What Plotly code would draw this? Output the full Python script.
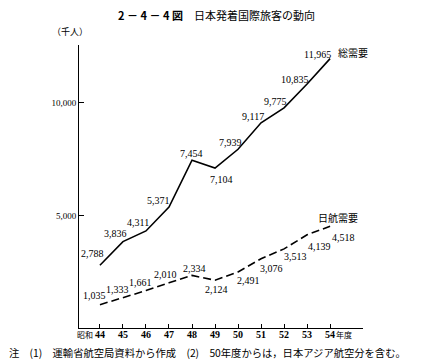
import plotly.graph_objects as go

years = [44, 45, 46, 47, 48, 49, 50, 51, 52, 53, 54]
year_labels = ["44", "45", "46", "47", "48", "49", "50", "51", "52", "53", "54"]
total_demand = [2788, 3836, 4311, 5371, 7454, 7104, 7939, 9117, 9775, 10835, 11965]
jal_demand = [1035, 1333, 1661, 2010, 2334, 2124, 2491, 3076, 3513, 4139, 4518]
y_ticks = [5000, 10000]

# label offsets (pixels) relative to each point: style only
total_dx = [-7, -7, -8, -10, -1, 6, -8, -8, -9, -12, -13]
total_dy = [12, 8, 8, 7, 7, -11, 7, 6, 6, 5, 4]
jal_dx = [-5, -5, -5, -3, 2, 1, 10, 10, 11, 12, 13]
jal_dy = [9, 8, 8, 8, 7, -9, -9, -10, -8, -12, -11]

SERIF = "Liberation Serif, Noto Serif CJK JP, Noto Sans CJK JP, serif"
JP = "Noto Sans CJK JP, sans-serif"

# the page body has an 8px default margin; size the figure so it fits the window
OFF = 8
W, H = 438 - OFF, 364 - OFF
ML, MR, MT, MB = 79 - OFF, 75, 45 - OFF, 36
pw, ph = W - ML - MR, H - MT - MB


def px(x):
    return (x - OFF - ML) / pw


def py(y):
    return (H - MB - (y - OFF)) / ph


fig = go.Figure()
fig.add_trace(go.Scatter(
    x=years, y=total_demand, mode="lines",
    line=dict(color="black", width=1.6), showlegend=False, hoverinfo="x+y"))
fig.add_trace(go.Scatter(
    x=years, y=jal_demand, mode="lines",
    line=dict(color="black", width=1.6, dash="8px,4px"), showlegend=False,
    hoverinfo="x+y"))

annotations = [
    dict(text="<b>2 － 4 － 4 図</b>　日本発着国際旅客の動向", x=px(216), y=py(15.5),
         xref="paper", yref="paper", xanchor="center", yanchor="middle", borderpad=0,
         showarrow=False, font=dict(family=JP, size=11)),
    dict(text="（千人）", x=px(70), y=py(31), xref="paper", yref="paper",
         xanchor="center", yanchor="middle", showarrow=False, font=dict(family=JP, size=9)),
    dict(text="総需要", x=54, y=total_demand[-1], xref="x", yref="y", xanchor="left",
         xshift=6, yshift=6, showarrow=False, font=dict(family=JP, size=10)),
    dict(text="日航需要", x=54, y=jal_demand[-1], xref="x", yref="y", xanchor="center",
         xshift=8, yshift=9, showarrow=False, font=dict(family=JP, size=10)),
    dict(text="昭和", x=44, y=0, xref="x", yref="y", xanchor="right", yanchor="top",
         xshift=-6, yshift=0, showarrow=False, borderpad=0, font=dict(family=JP, size=8)),
    dict(text="年度", x=54, y=0, xref="x", yref="y", xanchor="left", yanchor="top",
         xshift=5, yshift=0, showarrow=False, borderpad=0, font=dict(family=JP, size=8)),
    dict(text="注　(1)　運輸省航空局資料から作成　(2)　50年度からは，日本アジア航空分を含む。",
         x=px(8), y=py(352), xref="paper", yref="paper", xanchor="left", yanchor="middle",
         showarrow=False, borderpad=0, font=dict(family=JP, size=10.3)),
]
for yr, lab in zip(years, year_labels):
    annotations.append(dict(text=f"<b>{lab}</b>", x=yr, y=0, xref="x", yref="y",
                            yanchor="top", yshift=0, showarrow=False, borderpad=0,
                            font=dict(family=SERIF, size=10)))
for yr, v, dx, dy in zip(years, total_demand, total_dx, total_dy):
    annotations.append(dict(text=f"{v:,}", x=yr, y=v, xref="x", yref="y",
                            xanchor="center", yanchor="middle", xshift=dx, yshift=dy,
                            showarrow=False, borderpad=0, font=dict(family=SERIF, size=10)))
for yr, v, dx, dy in zip(years, jal_demand, jal_dx, jal_dy):
    annotations.append(dict(text=f"{v:,}", x=yr, y=v, xref="x", yref="y",
                            xanchor="center", yanchor="middle", xshift=dx, yshift=dy,
                            showarrow=False, borderpad=0, font=dict(family=SERIF, size=10)))

fig.update_layout(
    width=W, height=H,
    margin=dict(l=ML, r=MR, t=MT, b=MB),
    paper_bgcolor="white", plot_bgcolor="white",
    font=dict(family=SERIF, size=10, color="black"),
    xaxis=dict(range=[43.09, 55.43], tickvals=years, showticklabels=False,
               ticks="inside", ticklen=4, tickcolor="black", showline=True,
               linecolor="black", linewidth=1, showgrid=False, zeroline=False),
    yaxis=dict(range=[0, 12570], tickvals=y_ticks, tickformat=",",
               ticks="inside", ticklen=5, tickcolor="black", showline=True,
               linecolor="black", linewidth=1, showgrid=False, zeroline=False,
               tickfont=dict(family=SERIF, size=9)),
    annotations=annotations,
)
fig.write_html("out.html")
